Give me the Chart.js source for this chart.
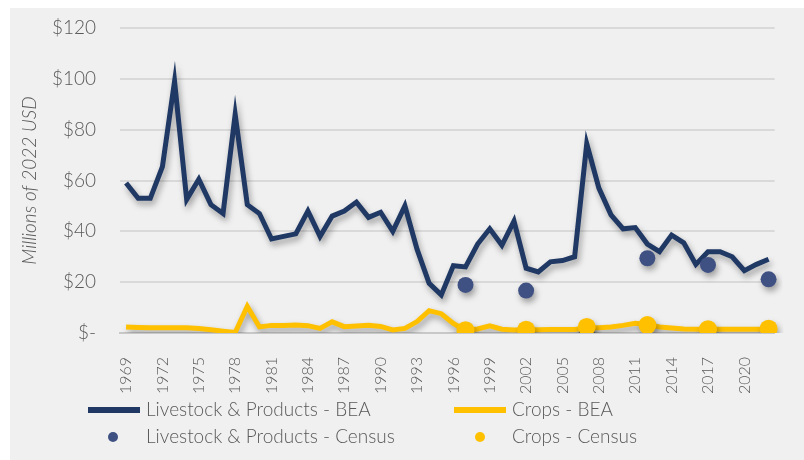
<!DOCTYPE html>
<html>
<head>
<meta charset="utf-8">
<script src="https://cdn.jsdelivr.net/npm/chart.js@4.4.1/dist/chart.umd.min.js"></script>
<style>
    body { margin: 0; background: #ffffff; }
    #wrap { position: relative; width: 804px; height: 460px; }
    #panel { position: absolute; left: 10px; top: 8px; right: 0; bottom: 0; background: #f0f0f0; }
    canvas { position: absolute; left: 0; top: 0; }
    .legend { position: absolute; font-family: Lato, "Open Sans", sans-serif; font-weight: 300; font-size: 19px; color: #595959; }
    .item { position: absolute; white-space: nowrap; height: 24px; line-height: 24px; }
    .swatch-line { position: absolute; width: 52px; height: 6px; top: 10px; }
    .swatch-dot { position: absolute; width: 10px; height: 10px; border-radius: 50%; top: 8px; }
    .item span { position: absolute; left: 58px; top: 0; }
</style>
</head>
<body>
<div id="wrap">
    <div id="panel"></div>
    <canvas id="chart" width="804" height="460"></canvas>
    <div class="legend">
        <div class="item" style="left:88px; top:397px;">
            <div class="swatch-line" style="background:#1f3864;"></div><span>Livestock &amp; Products - BEA</span>
        </div>
        <div class="item" style="left:454px; top:397px;">
            <div class="swatch-line" style="background:#ffc000;"></div><span>Crops - BEA</span>
        </div>
        <div class="item" style="left:88px; top:424px;">
            <div class="swatch-dot" style="left:20px; background:#3f5183;"></div><span>Livestock &amp; Products - Census</span>
        </div>
        <div class="item" style="left:454px; top:424px;">
            <div class="swatch-dot" style="left:21px; background:#ffc000;"></div><span>Crops - Census</span>
        </div>
    </div>
</div>
<script>
    // 1969 ~ 2022
    let years = [];
    for (let y = 1969; y <= 2022; y++) years.push(String(y));

    let livestockBEA = [
        59, 53, 53, 65.5, 99, 52.5, 60.5, 50.5, 47, 86,
        50.5, 47, 37, 38, 39, 48, 38, 46, 48, 51.5,
        45.5, 47.5, 40, 50, 33, 19.5, 15, 26.5, 26, 35,
        41, 34.5, 44, 25.5, 24, 28, 28.5, 30, 74.5, 57,
        46.5, 41, 41.5, 35, 32, 38.5, 35.5, 27, 32, 32,
        30, 24.5, 27, 29
    ];
    let cropsBEA = [
        2.4, 2.2, 2.1, 2.1, 2.1, 2.1, 1.8, 1.3, 0.7, 0.2,
        10.5, 2.4, 3, 3, 3.1, 2.9, 1.8, 4.4, 2.5, 2.8,
        3, 2.6, 1.2, 1.8, 4.5, 8.8, 7.6, 3.8, 0.9, 1.6,
        2.8, 1.5, 1.2, 1.3, 1.3, 1.4, 1.4, 1.4, 2.1, 2.1,
        2.4, 3, 3.8, 3.4, 2.4, 2, 1.6, 1.5, 1.5, 1.5,
        1.5, 1.5, 1.5, 1.5
    ];

    let censusYears = ['1997', '2002', '2007', '2012', '2017', '2022'];
    let livestockCensus = [18.9, 16.7, -0.3, 29.4, 26.8, 21.1];
    let cropsCensus = [1.1, 1.3, 2.4, 3.1, 1.5, 1.7];

    let yTicks = ['$-', '$20', '$40', '$60', '$80', '$100', '$120'];

    function toPoints(vals) {
        return censusYears.map(function (yr, i) { return { x: yr, y: vals[i] }; });
    }

    // drop shadow under the marks, like the Excel original
    let shadowPlugin = {
        id: 'shadow',
        beforeDatasetsDraw: function (chart) {
            let ctx = chart.ctx;
            ctx.save();
            ctx.shadowColor = 'rgba(0,0,0,0.35)';
            ctx.shadowBlur = 6;
            ctx.shadowOffsetX = 2;
            ctx.shadowOffsetY = 4;
        },
        afterDatasetsDraw: function (chart) {
            chart.ctx.restore();
        }
    };

    let chart = new Chart(document.getElementById('chart'), {
        type: 'line',
        data: {
            labels: years,
            datasets: [{
                label: 'Crops - Census',
                data: toPoints(cropsCensus),
                showLine: false,
                pointRadius: 9,
                pointBackgroundColor: '#ffc000',
                pointBorderWidth: 0,
                order: 0
            }, {
                label: 'Livestock & Products - Census',
                data: toPoints(livestockCensus),
                showLine: false,
                pointRadius: 8,
                pointBackgroundColor: '#3f5183',
                pointBorderWidth: 0,
                order: 1
            }, {
                label: 'Crops - BEA',
                data: cropsBEA,
                borderColor: '#ffc000',
                borderWidth: 5,
                pointRadius: 0,
                tension: 0,
                order: 2
            }, {
                label: 'Livestock & Products - BEA',
                data: livestockBEA,
                borderColor: '#1f3864',
                borderWidth: 5,
                pointRadius: 0,
                tension: 0,
                order: 3
            }]
        },
        options: {
            responsive: false,
            animation: false,
            layout: { padding: { left: 18, right: 22, top: 28, bottom: 58 } },
            plugins: {
                legend: { display: false },
                tooltip: { enabled: false }
            },
            scales: {
                x: {
                    type: 'category',
                    offset: true,
                    grid: { display: false },
                    border: { color: '#c8c8c8', width: 2 },
                    afterFit: function (scale) { scale.height = 69; },
                    ticks: {
                        autoSkip: false,
                        minRotation: 90,
                        maxRotation: 90,
                        padding: 16,
                        color: '#595959',
                        font: { family: 'Lato', size: 16, weight: 300 },
                        callback: function (v, i) { return i % 3 === 0 ? years[i] : ''; }
                    }
                },
                y: {
                    min: 0,
                    max: 120,
                    afterFit: function (scale) {
                        scale.width = 102;
                        // tick padding otherwise pushes the plot down
                        scale.paddingTop = 12;
                        scale.paddingBottom = 12;
                    },
                    grid: { color: '#d9d9d9', lineWidth: 2, drawTicks: false },
                    border: { display: false },
                    ticks: {
                        stepSize: 20,
                        padding: 24,
                        color: '#595959',
                        font: { family: 'Lato', size: 19, weight: 300 },
                        callback: function (v) { return yTicks[v / 20]; }
                    },
                    title: {
                        display: true,
                        text: 'Millions of 2022 USD',
                        color: '#595959',
                        padding: { top: 0, bottom: 4 },
                        font: { family: 'Lato', size: 19, style: 'italic', weight: 300 }
                    }
                }
            }
        },
        plugins: [shadowPlugin]
    });
</script>
</body>
</html>
